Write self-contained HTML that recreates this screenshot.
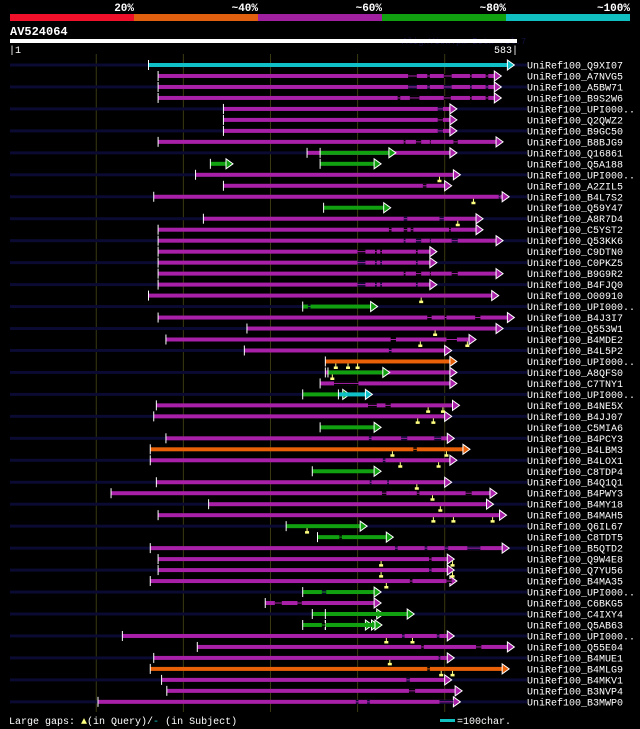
<!DOCTYPE html>
<html><head><meta charset="utf-8"><style>
html,body{margin:0;padding:0;background:#000;}
svg{display:block;}
text{font-family:"Liberation Mono","DejaVu Sans Mono",monospace;}
</style></head><body>
<svg id="chart" width="640" height="729" viewBox="0 0 640 729" xmlns="http://www.w3.org/2000/svg">
<g id="hdr">
<rect x="10" y="14" width="124" height="7" fill="#f0102a"/>
<rect x="134" y="14" width="124" height="7" fill="#e06010"/>
<rect x="258" y="14" width="124" height="7" fill="#a020a0"/>
<rect x="382" y="14" width="124" height="7" fill="#10a010"/>
<rect x="506" y="14" width="124" height="7" fill="#10c0c0"/>
<text x="134" y="11" fill="#fff" font-size="11" font-weight="bold" text-anchor="end">20%</text>
<text x="258" y="11" fill="#fff" font-size="11" font-weight="bold" text-anchor="end">~40%</text>
<text x="382" y="11" fill="#fff" font-size="11" font-weight="bold" text-anchor="end">~60%</text>
<text x="506" y="11" fill="#fff" font-size="11" font-weight="bold" text-anchor="end">~80%</text>
<text x="630" y="11" fill="#fff" font-size="11" font-weight="bold" text-anchor="end">~100%</text>
<text x="10" y="35" fill="#fff" font-size="12" font-weight="bold">AV524064</text>
<text x="402" y="44" fill="#101040" font-size="9">AlignView.pm Beta rel.7</text>
<rect x="10" y="39" width="507" height="4" fill="#fff"/>
<text x="9" y="53" fill="#fff" font-size="10">|1</text>
<text x="518" y="53" fill="#fff" font-size="10" text-anchor="end">583|</text>
<text x="9" y="724" fill="#fff" font-size="10" xml:space="preserve">Large gaps: <tspan fill="#ffff80">▲</tspan>(in Query)/<tspan fill="#10c0c0">-</tspan> (in Subject)</text>
<rect x="440" y="719" width="15" height="3" fill="#10c0c0"/>
<text x="457" y="724" fill="#fff" font-size="10">=100char.</text>
</g>
<g id="plot"></g>
</svg>
<script>
const labels=["Q9XI07","A7NVG5","A5BW71","B9S2W6","UPI000..","Q2QWZ2","B9GC50","B8BJG9","Q16861","Q5A188","UPI000..","A2ZIL5","B4L7S2","Q59Y47","A8R7D4","C5YST2","Q53KK6","C9DTN0","C0PKZ5","B9G9R2","B4FJQ0","O00910","UPI000..","B4J3I7","Q553W1","B4MDE2","B4L5P2","UPI000..","A8QFS0","C7TNY1","UPI000..","B4NE5X","B4JJ07","C5MIA6","B4PCY3","B4LBM3","B4LOX1","C8TDP4","B4Q1Q1","B4PWY3","B4MY18","B4MAH5","Q6IL67","C8TDT5","B5QTD2","Q9W4E8","Q7YU56","B4MA35","UPI000..","C6BKG5","C4IXY4","Q5AB63","UPI000..","Q55E04","B4MUE1","B4MLG9","B4MKV1","B3NVP4","B3MWP0"];
const segRow=[0,1,2,3,4,5,6,7,8,8,9,9,10,11,12,13,14,15,16,17,18,19,20,21,22,23,24,25,26,27,28,28,29,30,30,31,32,33,34,35,36,37,38,39,40,41,42,43,44,45,46,47,48,49,50,50,51,51,51,52,53,54,55,56,57,58];
const segStart=[160,171,171,171,246,246,246,171,342,357,231,357,214,246,166,361,223,171,171,171,171,171,171,160,337,171,273,180,270,363,363,366,357,337,378,169,166,357,180,162,162,348,169,117,229,171,318,354,162,171,171,162,337,294,348,363,337,363,363,130,216,166,162,175,181,102];
const segEnd=[580,565,565,565,514,514,514,567,514,444,257,427,518,508,574,438,544,544,567,491,491,567,491,562,423,580,567,536,508,514,514,437,514,391,417,517,508,427,511,529,514,427,508,560,556,571,411,441,574,511,511,514,427,427,430,465,417,424,428,511,580,511,574,508,520,518];
const segColor=["C","P","P","P","P","P","P","P","P","G","G","G","P","P","P","G","P","P","P","P","P","P","P","P","G","P","P","P","P","O","P","G","P","G","C","P","P","G","P","O","P","G","P","P","P","P","G","G","P","P","P","P","G","P","G","G","G","G","G","P","P","P","O","P","P","P"];
const gapRow=[1,1,1,1,1,2,2,2,2,2,3,3,3,3,3,4,5,6,7,7,7,7,11,12,14,14,15,15,15,15,16,16,16,16,17,17,17,17,18,18,18,18,19,19,19,19,20,20,20,20,22,23,23,23,25,25,26,29,31,31,34,34,34,35,36,38,38,39,39,39,43,44,44,44,44,45,46,47,47,48,49,49,51,52,52,53,53,54,55,56,57,58,58,58];
const gapStart=[458,480,499,529,547,458,480,499,529,547,446,460,499,529,547,492,492,492,453,467,483,510,475,562,453,494,436,453,461,505,453,467,483,508,400,420,426,467,400,420,426,467,453,467,483,508,400,420,426,467,343,480,500,535,438,502,436,373,412,432,413,450,488,464,429,414,434,428,468,524,379,443,477,500,526,482,482,460,502,359,305,331,359,451,491,473,536,493,480,456,459,398,411,494];
const gapEnd=[468,483,508,531,550,468,483,508,531,550,449,471,507,531,550,498,498,498,455,473,484,515,479,564,457,499,439,457,464,507,455,473,484,515,409,422,428,469,409,422,428,469,455,473,484,515,409,422,428,469,346,485,502,541,444,514,439,401,422,438,416,457,496,468,432,416,436,433,471,531,382,446,480,504,541,485,485,463,508,364,313,336,363,454,494,476,542,495,483,460,466,401,414,510];
const markRow=[10,12,14,21,24,25,25,27,27,27,28,31,31,32,32,35,35,36,36,38,39,40,41,41,41,42,45,45,46,46,47,52,52,54,55,55];
const markPos=[494,533,515,473,489,472,526,375,389,400,371,481,498,469,487,440,502,449,493,468,486,495,487,510,555,342,427,509,427,509,433,433,463,437,496,509];
const colorMap={C:"#10c0c8",P:"#a820a8",G:"#10a010",O:"#e86008"};
const NS="http://www.w3.org/2000/svg";
const plot=document.getElementById("plot");
function xs(p){return 10+(p-1)*507/582;}
function ys(i){return 65+i*10.98;}
function mk(tag,attrs){const e=document.createElementNS(NS,tag);for(const k in attrs)e.setAttribute(k,attrs[k]);return e;}
// grid lines
[100,200,300,400,500].forEach(function(p){
  const g=mk("line",{x1:xs(p),x2:xs(p),y1:54,y2:712,stroke:"#3a3a12","stroke-width":1});
  
  
  plot.appendChild(g);
});
// stripes and labels
labels.forEach(function(l,i){
  if(i%2===0){
    const s=mk("rect",{x:10,y:ys(i)-1.5,width:517,height:3,fill:"#0a0a32"});
    
    
    plot.appendChild(s);
  }
  const t=mk("text",{x:527,y:ys(i)+3.5,fill:"#fff","font-size":10});
  t.textContent="UniRef100_"+l;
  
  
  plot.appendChild(t);
});
// segments
segRow.forEach(function(r,k){
  const y=ys(r),x0=xs(segStart[k]),x1=xs(segEnd[k]),c=colorMap[segColor[k]];
  const b=mk("rect",{x:x0,y:y-2,width:Math.max(0,x1-7-x0),height:4,fill:c});
  
  
  plot.appendChild(b);
  const a=mk("polygon",{points:(x1-7)+","+(y-5)+" "+x1+","+y+" "+(x1-7)+","+(y+5),fill:c,stroke:"#fff","stroke-width":1});
  
  
  plot.appendChild(a);
  const tk=mk("line",{x1:x0,x2:x0,y1:y-5,y2:y+5,stroke:"#fff","stroke-width":1});
  
  
  plot.appendChild(tk);
});
// gaps
gapRow.forEach(function(r,k){
  const y=ys(r),x0=xs(gapStart[k]),x1=xs(gapEnd[k]);
  let c=colorMap.P;
  for(let j=0;j<segRow.length;j++){if(segRow[j]===r&&segStart[j]<=gapStart[k]&&segEnd[j]>=gapEnd[k]){c=colorMap[segColor[j]];}}
  const bg=mk("rect",{x:x0,y:y-2,width:x1-x0,height:4,fill:(r%2===0?"#0a0a32":"#000")});
  
  
  plot.appendChild(bg);
  const ln=mk("rect",{x:x0,y:y-0.5,width:x1-x0,height:1,fill:c});
  
  
  plot.appendChild(ln);
});
// query gap markers
markRow.forEach(function(r,k){
  const y=ys(r),x=xs(markPos[k]);
  const m=mk("path",{d:"M"+(x-0.5)+" "+(y+2)+"h1v3h1.5v2.5h-4v-2.5h1.5z",fill:"#ffff80"});
  
  
  plot.appendChild(m);
});
</script>
</body></html>
